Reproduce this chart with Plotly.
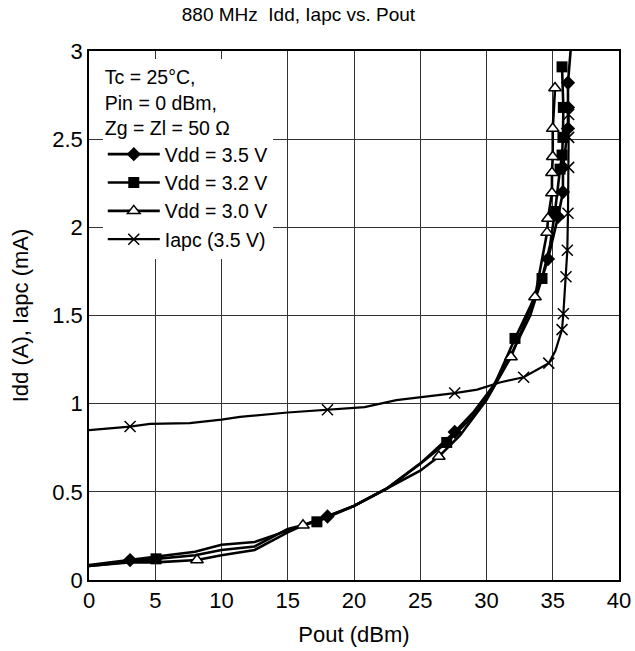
import plotly.graph_objects as go

# ---------------- data ----------------
# Vdd = 3.5 V (diamond)
v35_x = [0, 3.1, 5, 8, 10, 12.5, 15, 18, 20, 22.5, 25, 27.6, 29, 30.5, 32, 33.3, 34.64, 35.4, 35.77, 35.77, 36.15, 36.15, 36.15, 36.4]
v35_y = [0.085, 0.113, 0.13, 0.16, 0.20, 0.215, 0.28, 0.36, 0.42, 0.52, 0.66, 0.84, 0.95, 1.10, 1.30, 1.50, 1.82, 2.06, 2.20, 2.34, 2.56, 2.68, 2.82, 3.05]
v35_mx = [3.1, 18, 27.6, 34.64, 35.4, 35.77, 35.77, 36.15, 36.15, 36.15]
v35_my = [0.113, 0.36, 0.84, 1.82, 2.06, 2.20, 2.34, 2.56, 2.68, 2.82]

# Vdd = 3.2 V (square)
v32_x = [0, 3, 5.06, 8, 10, 12.5, 15, 17.2, 20, 22.5, 25, 27, 29, 30.5, 32.15, 33.3, 34.19, 34.8, 35.17, 35.55, 35.7, 35.77, 35.8, 35.7]
v32_y = [0.08, 0.105, 0.12, 0.14, 0.17, 0.19, 0.29, 0.33, 0.42, 0.52, 0.66, 0.78, 0.93, 1.09, 1.37, 1.55, 1.71, 1.90, 2.09, 2.33, 2.41, 2.51, 2.68, 2.91]
v32_mx = [5.06, 17.2, 27.0, 32.15, 34.19, 35.17, 35.55, 35.7, 35.77, 35.8, 35.7]
v32_my = [0.12, 0.33, 0.78, 1.37, 1.71, 2.09, 2.33, 2.41, 2.51, 2.68, 2.91]

# Vdd = 3.0 V (open triangle)
v30_x = [0, 3, 5, 8.15, 10, 12.5, 15, 16.15, 20, 22.5, 25, 26.4, 28, 30, 31.85, 33.66, 34.57, 34.64, 34.94, 34.94, 35.0, 35.0, 35.17]
v30_y = [0.08, 0.10, 0.10, 0.113, 0.14, 0.17, 0.27, 0.31, 0.42, 0.52, 0.62, 0.70, 0.82, 1.02, 1.265, 1.605, 1.97, 2.05, 2.195, 2.31, 2.40, 2.56, 2.79]
v30_mx = [8.15, 16.15, 26.4, 31.85, 33.66, 34.57, 34.64, 34.94, 34.94, 35.0, 35.0, 35.17]
v30_my = [0.113, 0.31, 0.70, 1.265, 1.605, 1.97, 2.05, 2.195, 2.31, 2.40, 2.56, 2.79]

# Iapc (3.5 V) (x)
ia_x = [0, 3.1, 4.6, 7.6, 10, 11.4, 15, 18, 20.8, 23.2, 27.6, 29.3, 31, 32.8, 34.7, 35.2, 35.7, 35.8, 36.0, 36.1, 36.15, 36.2, 36.2, 36.2]
ia_y = [0.85, 0.87, 0.885, 0.89, 0.91, 0.925, 0.95, 0.965, 0.98, 1.02, 1.06, 1.08, 1.12, 1.15, 1.23, 1.30, 1.42, 1.51, 1.72, 1.87, 2.08, 2.34, 2.51, 2.64]
ia_mx = [3.1, 18, 27.6, 32.8, 34.7, 35.7, 35.8, 36.0, 36.1, 36.15, 36.2, 36.2, 36.2]
ia_my = [0.87, 0.965, 1.06, 1.15, 1.23, 1.42, 1.51, 1.72, 1.87, 2.08, 2.34, 2.51, 2.64]

x_ticks = [0, 5, 10, 15, 20, 25, 30, 35, 40]
y_ticks = [0, 0.5, 1, 1.5, 2, 2.5, 3]
y_ticktext = ["0", "0.5", "1", "1.5", "2", "2.5", "3"]

title_text = "880 MHz  Idd, Iapc vs. Pout"
legend_title = "Tc = 25°C,<br>Pin = 0 dBm,<br>Zg = Zl = 50 Ω"

series = [
    ("Vdd = 3.5 V", v35_x, v35_y, v35_mx, v35_my, dict(symbol="diamond", size=11, color="black", line=dict(width=0)), 2.6),
    ("Vdd = 3.2 V", v32_x, v32_y, v32_mx, v32_my, dict(symbol="square", size=11, color="black", line=dict(width=0)), 2.6),
    ("Vdd = 3.0 V", v30_x, v30_y, v30_mx, v30_my, dict(symbol="triangle-up", size=11, color="white", line=dict(width=1.5, color="black")), 2.6),
    ("Iapc (3.5 V)", ia_x, ia_y, ia_mx, ia_my, dict(symbol="x-thin", size=11, color="black", line=dict(width=1.5, color="black")), 2.2),
]

fig = go.Figure()
for i, (name, lx, ly, mx, my, mk, lw) in enumerate(series):
    grp = f"g{i}"
    fig.add_trace(go.Scatter(x=lx, y=ly, mode="lines", line=dict(color="black", width=lw),
                             showlegend=False, legendgroup=grp, hoverinfo="skip", cliponaxis=True))
    fig.add_trace(go.Scatter(x=mx, y=my, mode="markers", marker=mk, showlegend=False,
                             legendgroup=grp, cliponaxis=True))
    fig.add_trace(go.Scatter(x=[None], y=[None], mode="lines+markers", name=name,
                             line=dict(color="black", width=lw), marker=mk, legendgroup=grp, showlegend=True))

FONT = "Liberation Sans, Arial, sans-serif"
fig.update_layout(
    width=635, height=651,
    margin=dict(l=89, r=16, t=51, b=71, autoexpand=False),
    paper_bgcolor="white", plot_bgcolor="white",
    font=dict(family=FONT, color="black"),
    title=dict(text=title_text, x=0.47, xanchor="center", y=(651 - 14) / 651, yanchor="middle",
               xref="container", yref="container", font=dict(size=19, family=FONT, color="black")),
    showlegend=True,
    legend=dict(x=0.026, y=0.985, xanchor="left", yanchor="top", bgcolor="white", borderwidth=0,
                font=dict(size=19.5, family=FONT, color="black"),
                title=dict(text=legend_title, font=dict(size=19.5, family=FONT, color="black")),
                tracegroupgap=0, itemwidth=52),
    xaxis=dict(range=[0, 40], tickvals=x_ticks, ticktext=[str(t) for t in x_ticks],
               showgrid=True, gridcolor="#333", gridwidth=1, zeroline=False, automargin=False,
               showline=True, linecolor="black", linewidth=1.5, mirror=True, ticks="",
               tickfont=dict(size=22, family=FONT, color="black"),
               title=dict(text="Pout (dBm)", font=dict(size=22, family=FONT, color="black"), standoff=14)),
    yaxis=dict(range=[0, 3], tickvals=y_ticks, ticktext=y_ticktext,
               showgrid=True, gridcolor="#333", gridwidth=1, zeroline=False, automargin=False,
               showline=True, linecolor="black", linewidth=1.5, mirror=True, ticks="",
               tickfont=dict(size=22, family=FONT, color="black"),
               title=dict(text="Idd (A), Iapc (mA)", font=dict(size=22, family=FONT, color="black"), standoff=18)),
)

fig.write_html("out.html")
